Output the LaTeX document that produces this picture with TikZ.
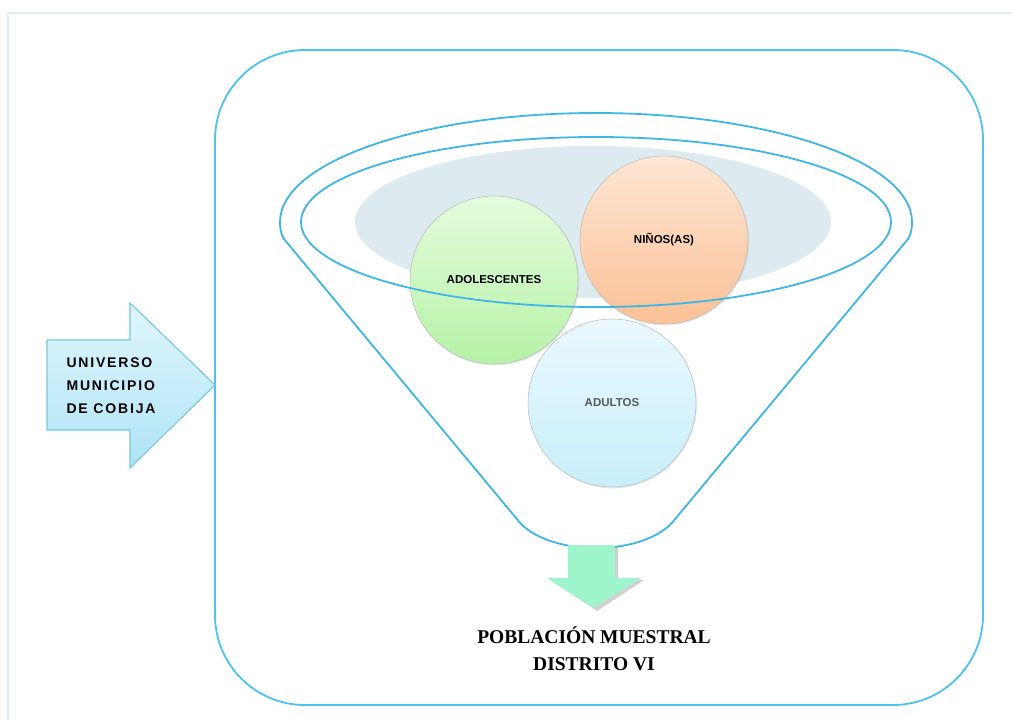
\documentclass[tikz,border=0pt]{standalone}
\usepackage{fontspec}
\setmainfont{Liberation Serif}
\setsansfont{Liberation Sans}
\usetikzlibrary{shadows}
\definecolor{framecol}{HTML}{DCEFF5}
\definecolor{boxblue}{HTML}{4CC3EC}
\definecolor{funnelblue}{HTML}{3FB6E6}
\definecolor{shadecol}{HTML}{DDEAF0}
\definecolor{greentop}{HTML}{E4FCDD}
\definecolor{greenbot}{HTML}{B6F2A6}
\definecolor{orangetop}{HTML}{FDE6D4}
\definecolor{orangebot}{HTML}{FBC196}
\definecolor{bluetop}{HTML}{EAF8FD}
\definecolor{bluebot}{HTML}{C8EFFC}
\definecolor{arrowtop}{HTML}{E0F6FD}
\definecolor{arrowbot}{HTML}{AFE4F6}
\definecolor{arrowedge}{HTML}{74C8E4}
\definecolor{downgreen}{HTML}{9EF5CC}
\begin{document}
\begin{tikzpicture}[x=1pt,y=-1pt,
  funnelline/.style={draw=funnelblue,line width=1.8pt},
  circ/.style={circle,minimum size=168pt,inner sep=0pt,draw=gray!55,line width=0.5pt,
    font=\sffamily\bfseries\fontsize{11.5}{13}\selectfont,
    drop shadow={opacity=0.18,shadow xshift=1pt,shadow yshift=-1.5pt}},
  lbl/.style={font=\sffamily\bfseries\fontsize{14}{23}\selectfont,align=left,anchor=west},
  btm/.style={font=\bfseries\fontsize{19.5}{27}\selectfont,align=center}]
\useasboundingbox (0,0) rectangle (1012,720);
\fill[white] (0,0) rectangle (1012,720);
% outer frame
\draw[framecol,line width=1.2pt] (8,13) rectangle (1030,740);
% rounded box
\draw[boxblue,line width=1.8pt,rounded corners=90pt] (215,50) rectangle (983,705);
% left arrow
\shade[top color=arrowtop,bottom color=arrowbot,draw=arrowedge,line width=1.1pt]
  (47,340) -- (130,340) -- (130,303) -- (215,385) -- (130,468) -- (130,430) -- (47,430) -- cycle;
\node[lbl] (universo) at (63,386) {\addfontfeature{LetterSpace=13}UNIVERSO\\\addfontfeature{LetterSpace=13}MUNICIPIO\\\addfontfeature{LetterSpace=13}DE COBIJA};
% shaded ellipse
\fill[shadecol] (593,222) ellipse [x radius=238pt,y radius=76pt];
% circles
\node[circ,top color=greentop,bottom color=greenbot] (adol) at (494,280) {ADOLESCENTES};
\node[circ,top color=orangetop,bottom color=orangebot] (ninos) at (664,240) {NIÑOS(AS)};
\node[circ,top color=bluetop,bottom color=bluebot,text=black!65] (adul) at (612,403) {ADULTOS};
% inner ellipse
\draw[funnelline] (596,222) ellipse [x radius=295pt,y radius=85pt];
% funnel outline
\draw[funnelline] (280,222) .. controls (280,161.8) and (421.5,113) .. (596,113)
  .. controls (770.5,113) and (912,161.8) .. (912,222)
  .. controls (912,229) and (911,234) .. (908,239)
  -- (676,518) .. controls (660,540) and (625,548) .. (596,548)
  .. controls (567,548) and (532,540) .. (516,518)
  -- (284,239) .. controls (281,234) and (280,229) .. (280,222) -- cycle;
% down arrow
\fill[black,opacity=0.18] (571,547) -- (618,547) -- (618,580) -- (644,580) -- (597,611) -- (550,580) -- (571,580) -- cycle;
\fill[downgreen] (568,545) -- (615,545) -- (615,578) -- (641,578) -- (594,608) -- (547,578) -- (568,578) -- cycle;
\node[btm] (pob) at (594,649) {POBLACIÓN MUESTRAL\\DISTRITO VI};
\end{tikzpicture}
\end{document}
